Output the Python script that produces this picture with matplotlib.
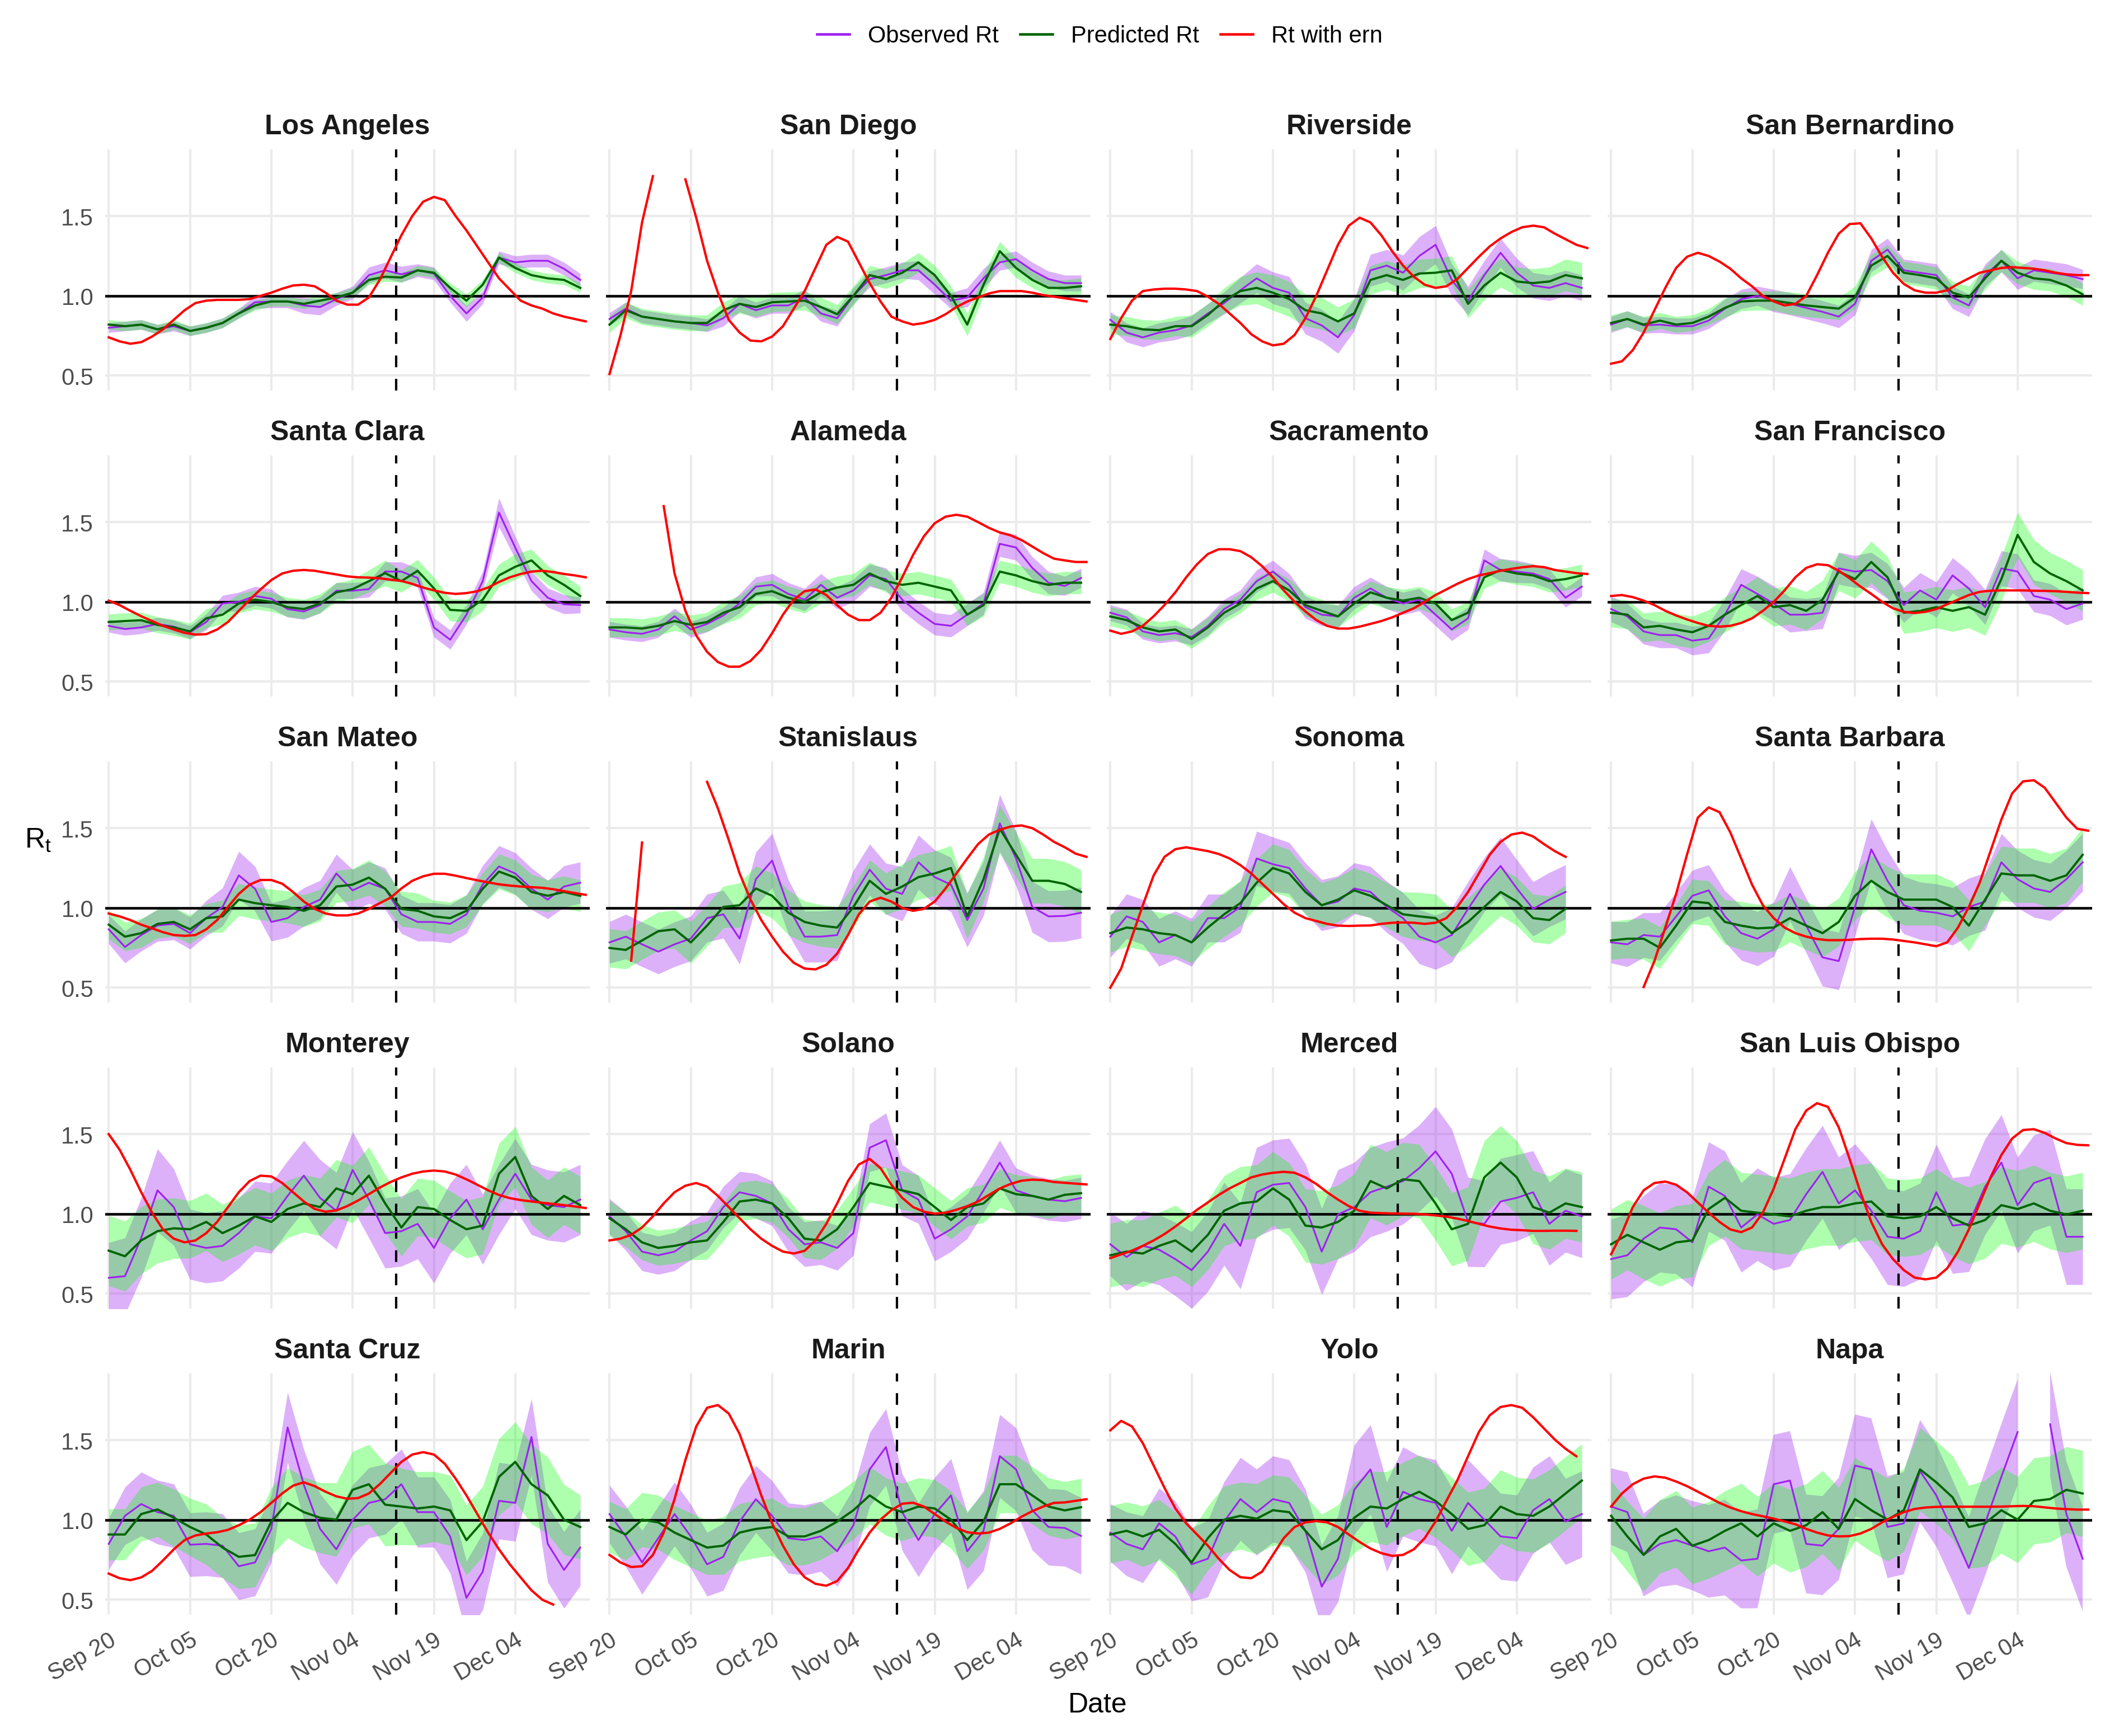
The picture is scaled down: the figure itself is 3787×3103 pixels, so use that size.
import numpy as np
import matplotlib
matplotlib.use("Agg")
import matplotlib.pyplot as plt
from matplotlib.lines import Line2D

plt.rcParams['font.family'] = ['Liberation Sans', 'DejaVu Sans']

nan = np.nan

########### Panels and axis values #############################
counties = ["Los Angeles", "San Diego", "Riverside", "San Bernardino",
            "Santa Clara", "Alameda", "Sacramento", "San Francisco",
            "San Mateo", "Stanislaus", "Sonoma", "Santa Barbara",
            "Monterey", "Solano", "Merced", "San Luis Obispo",
            "Santa Cruz", "Marin", "Yolo", "Napa"]

days_rt = np.arange(0, 88, 3)     # days since Sep 20 (observed / predicted)
days_ern = np.arange(0, 89, 2)    # days since Sep 20 (Rt with ern)
date_ticks = [0, 15, 30, 45, 60, 75]
date_labels = ["Sep 20", "Oct 05", "Oct 20", "Nov 04", "Nov 19", "Dec 04"]
y_ticks = [0.5, 1.0, 1.5]
y_labels = ["0.5", "1.0", "1.5"]
cutoff_day = 53                   # Nov 12

########### Observed Rt #############################
observed = {
    "Los Angeles": [0.80,0.81,0.82,0.79,0.81,0.78,0.80,0.83,0.89,0.96,0.965,0.965,0.94,0.93,0.98,1.02,1.13,1.16,1.135,1.16,1.14,1.0,0.89,0.99,1.24,1.21,1.22,1.22,1.17,1.10],
    "San Diego": [0.855,0.92,0.87,0.855,0.84,0.83,0.815,0.86,0.95,0.91,0.94,0.94,0.99,0.89,0.86,1.0,1.105,1.13,1.16,1.16,1.07,0.97,0.99,1.11,1.21,1.23,1.16,1.105,1.08,1.08],
    "Riverside": [0.85,0.77,0.74,0.77,0.785,0.815,0.89,0.955,1.035,1.11,1.05,1.02,0.86,0.815,0.74,0.88,1.16,1.19,1.145,1.25,1.32,1.10,0.97,1.13,1.27,1.145,1.065,1.05,1.08,1.05],
    "San Bernardino": [0.82,0.855,0.815,0.82,0.81,0.81,0.845,0.92,0.98,1.0,0.97,0.95,0.925,0.90,0.87,0.95,1.22,1.29,1.16,1.145,1.13,0.99,0.94,1.13,1.22,1.11,1.16,1.145,1.13,1.105],
    "Santa Clara": [0.85,0.83,0.84,0.862,0.845,0.81,0.874,0.99,1.0,1.037,1.02,0.955,0.94,0.98,1.07,1.07,1.08,1.19,1.19,1.15,0.84,0.763,0.92,1.13,1.56,1.34,1.13,1.026,0.985,0.98],
    "Alameda": [0.827,0.81,0.80,0.827,0.91,0.827,0.862,0.915,0.99,1.096,1.107,1.05,1.014,1.107,1.026,1.072,1.166,1.143,1.014,0.932,0.862,0.85,0.92,0.99,1.364,1.341,1.213,1.12,1.10,1.15],
    "Sacramento": [0.932,0.903,0.815,0.792,0.804,0.78,0.85,0.955,1.014,1.13,1.19,1.107,0.967,0.92,0.909,1.026,1.084,1.026,0.99,1.014,0.92,0.827,0.897,1.26,1.20,1.19,1.178,1.143,1.026,1.096],
    "San Francisco": [0.955,0.909,0.815,0.792,0.792,0.757,0.77,0.92,1.107,1.05,0.99,0.92,0.92,0.932,1.21,1.19,1.20,1.13,0.98,1.072,1.014,1.166,1.084,0.967,1.21,1.19,1.037,1.014,0.955,0.99],
    "San Mateo": [0.866,0.755,0.83,0.89,0.90,0.842,0.936,1.006,1.204,1.12,0.912,0.936,1.006,1.052,1.216,1.11,1.158,1.12,0.96,0.912,0.912,0.90,0.96,1.146,1.26,1.216,1.12,1.052,1.134,1.158],
    "Stanislaus": [0.784,0.82,0.772,0.726,0.772,0.808,0.936,0.96,0.808,1.18,1.297,1.006,0.82,0.82,0.83,1.076,1.24,1.12,1.088,1.286,1.193,1.146,0.924,1.122,1.53,1.31,1.006,0.947,0.95,0.97],
    "Sonoma": [0.82,0.947,0.912,0.784,0.83,0.784,0.936,0.936,1.006,1.31,1.274,1.25,1.122,1.017,1.04,1.122,1.10,1.006,0.936,0.82,0.784,0.83,0.994,1.146,1.263,1.122,0.994,1.052,1.10,nan],
    "Santa Barbara": [0.784,0.772,0.83,0.82,0.947,1.076,1.11,0.947,0.842,0.807,0.866,1.088,0.889,0.69,0.667,1.006,1.367,1.17,1.017,0.982,0.97,0.947,1.006,1.04,1.286,1.18,1.122,1.10,1.18,1.286],
    "Monterey": [0.60,0.61,0.85,1.148,1.043,0.81,0.787,0.80,0.88,0.985,0.973,1.113,1.24,1.10,1.02,1.276,1.09,0.88,0.892,0.938,0.787,0.973,1.09,0.904,1.09,1.252,1.09,1.055,1.043,1.09],
    "Solano": [0.985,0.892,0.764,0.741,0.764,0.834,0.892,1.043,1.136,1.113,1.066,0.904,0.81,0.822,0.787,0.88,1.415,1.462,1.148,1.09,0.845,0.904,0.985,1.148,1.322,1.148,1.113,1.09,1.08,1.10],
    "Merced": [0.81,0.73,0.80,0.776,0.717,0.648,0.764,0.938,0.80,1.136,1.183,1.194,1.043,0.764,0.997,1.043,1.136,1.171,1.206,1.287,1.392,1.252,0.95,0.938,1.078,1.101,1.136,0.938,1.02,0.985],
    "San Luis Obispo": [0.717,0.741,0.845,0.915,0.904,0.822,1.171,1.113,0.915,0.997,0.938,0.962,1.124,1.264,1.066,1.148,1.02,0.857,0.845,0.892,1.136,0.927,0.938,1.171,1.322,1.055,1.194,1.229,0.857,0.857],
    "Santa Cruz": [0.85,1.026,1.10,1.049,1.026,0.845,0.85,0.839,0.71,0.734,0.944,1.58,1.22,0.944,0.816,1.0,1.107,1.13,1.224,1.049,1.049,0.897,0.512,0.676,1.12,1.107,1.52,0.85,0.687,0.827],
    "Marin": [1.037,0.897,0.734,0.886,1.037,0.897,0.722,0.769,0.99,1.13,1.026,0.886,0.874,0.897,0.804,0.967,1.317,1.457,1.049,0.874,1.037,1.154,0.804,0.932,1.40,1.317,1.061,0.956,0.95,0.90],
    "Yolo": [0.92,0.85,0.816,0.979,0.897,0.722,0.757,0.99,1.131,1.049,1.131,1.107,0.932,0.582,0.757,1.189,1.317,0.956,1.177,1.131,1.107,0.932,1.107,1.002,0.897,0.886,1.061,1.131,0.99,1.037],
    "Napa": [1.084,1.049,0.781,0.85,0.874,0.839,0.804,0.827,0.746,0.757,1.224,1.247,0.85,0.839,0.944,1.341,1.317,0.956,0.979,1.306,1.154,0.932,0.699,0.979,1.271,1.551,nan,1.6,1.037,0.757],
}

# half width of the observed band, in hundredths
observed_band = {
    "Los Angeles": [3,3,3,3,3,3,3,3,3,4,4,4,5,5,4,4,5,5,5,4,4,4,5,4,4,4,4,4,4,4],
    "San Diego": [4,4,4,4,4,4,4,5,5,5,5,5,5,5,5,5,5,5,5,6,6,5,6,6,5,5,5,5,5,5],
    "Riverside": [5,6,6,6,6,6,6,7,8,9,10,10,10,10,10,10,10,10,11,12,12,10,9,9,9,9,8,8,8,8],
    "San Bernardino": [5,5,5,5,5,5,5,6,6,6,7,7,7,7,7,7,7,7,7,7,7,7,7,7,7,7,7,7,7,6],
    "Santa Clara": [4,4,4,4,4,4,5,5,6,6,6,5,5,5,5,5,5,6,6,6,6,6,6,6,9,7,6,6,6,5],
    "Alameda": [5,5,5,5,5,5,5,5,6,6,7,7,7,7,7,7,7,7,7,7,7,7,7,7,8,8,7,7,6,6],
    "Sacramento": [5,5,5,5,5,5,6,6,6,7,7,7,7,7,7,7,7,7,7,7,7,7,7,7,7,7,6,6,6,6],
    "San Francisco": [8,8,8,8,8,9,9,10,10,11,11,11,10,10,10,10,11,11,11,11,11,11,11,11,11,11,10,10,10,10],
    "San Mateo": [9,10,10,10,10,10,11,12,15,14,12,12,12,12,12,13,13,13,12,12,12,12,12,12,13,13,13,12,13,13],
    "Stanislaus": [13,14,14,14,14,14,15,15,16,17,17,17,16,16,16,16,16,16,17,17,17,17,17,17,18,17,16,16,16,16],
    "Sonoma": [13,14,14,15,15,15,15,15,16,17,17,16,16,16,16,16,16,16,16,17,17,17,17,17,18,18,17,17,17,17],
    "Santa Barbara": [13,14,14,15,15,16,16,16,17,17,17,17,17,18,18,18,19,19,18,18,18,18,18,18,18,18,18,18,18,18],
    "Monterey": [22,24,25,26,24,22,22,22,22,22,22,22,22,24,24,24,24,22,22,22,22,22,22,22,22,22,22,22,22,22],
    "Solano": [11,12,12,12,12,12,12,13,13,14,14,14,14,14,14,14,15,17,16,15,14,14,14,14,14,14,13,13,13,13],
    "Merced": [20,21,22,22,23,24,25,26,27,28,28,28,27,27,28,28,28,28,27,27,28,28,28,27,27,27,26,26,26,26],
    "San Luis Obispo": [25,26,27,28,28,28,28,28,28,29,29,29,29,29,29,29,30,30,30,30,30,30,30,30,30,30,30,30,30,30],
    "Santa Cruz": [16,18,20,20,20,20,20,20,21,21,21,22,22,22,22,22,22,22,22,22,22,23,23,24,24,24,24,24,24,24],
    "Marin": [18,19,20,20,20,20,20,21,21,21,22,22,22,22,22,23,23,24,24,23,23,23,24,25,26,26,25,24,24,24],
    "Yolo": [18,20,21,22,22,23,24,25,26,27,27,27,26,26,27,28,28,28,28,27,27,27,27,27,27,27,27,27,27,27],
    "Napa": [24,25,26,27,28,28,29,30,30,31,31,31,31,31,32,32,32,32,32,32,32,32,32,33,33,33,33,33,33,33],
}

########### Predicted Rt #############################
predicted = {
    "Los Angeles": [0.82,0.81,0.82,0.79,0.82,0.78,0.80,0.83,0.89,0.94,0.965,0.965,0.95,0.97,0.99,1.02,1.10,1.12,1.115,1.16,1.145,1.05,0.97,1.07,1.24,1.175,1.13,1.11,1.10,1.05],
    "San Diego": [0.82,0.91,0.87,0.855,0.84,0.83,0.83,0.91,0.95,0.93,0.96,0.965,0.97,0.93,0.885,1.0,1.13,1.105,1.145,1.21,1.13,1.0,0.82,1.07,1.28,1.175,1.10,1.05,1.05,1.06],
    "Riverside": [0.82,0.81,0.79,0.785,0.81,0.81,0.88,0.97,1.03,1.05,1.02,0.98,0.91,0.89,0.84,0.89,1.10,1.13,1.10,1.14,1.145,1.16,0.95,1.065,1.145,1.09,1.08,1.09,1.13,1.11],
    "San Bernardino": [0.83,0.855,0.82,0.845,0.82,0.83,0.87,0.925,0.965,0.97,0.97,0.955,0.94,0.93,0.92,0.99,1.19,1.25,1.145,1.13,1.11,1.02,0.99,1.11,1.22,1.145,1.11,1.10,1.065,1.01],
    "Santa Clara": [0.874,0.88,0.885,0.856,0.84,0.815,0.897,0.92,0.99,1.014,1.0,0.967,0.955,0.99,1.06,1.08,1.13,1.18,1.13,1.195,1.085,0.95,0.944,1.014,1.166,1.22,1.26,1.166,1.107,1.037],
    "Alameda": [0.84,0.84,0.833,0.85,0.88,0.856,0.874,0.932,0.967,1.05,1.067,1.026,1.0,1.06,1.09,1.107,1.178,1.13,1.107,1.12,1.096,1.072,0.92,0.98,1.19,1.166,1.13,1.107,1.12,1.12],
    "Sacramento": [0.909,0.886,0.84,0.815,0.827,0.768,0.84,0.932,0.99,1.084,1.13,1.072,0.98,0.944,0.909,0.99,1.06,1.026,1.008,1.026,0.99,0.886,0.932,1.154,1.20,1.178,1.166,1.13,1.143,1.166],
    "San Francisco": [0.932,0.92,0.84,0.85,0.827,0.81,0.85,0.92,0.98,1.037,0.967,0.98,0.944,1.014,1.19,1.143,1.25,1.154,0.932,0.944,0.967,0.944,0.967,0.92,1.143,1.42,1.25,1.178,1.13,1.072],
    "San Mateo": [0.895,0.82,0.842,0.90,0.912,0.866,0.936,0.947,1.052,1.03,1.017,1.006,0.982,1.017,1.134,1.146,1.19,1.12,0.994,0.982,0.947,0.936,0.982,1.12,1.228,1.19,1.10,1.076,1.10,1.076],
    "Stanislaus": [0.749,0.737,0.796,0.854,0.866,0.784,0.889,1.006,1.017,1.122,1.076,0.97,0.912,0.889,0.877,1.006,1.17,1.088,1.134,1.193,1.216,1.25,0.947,1.18,1.496,1.333,1.17,1.17,1.15,1.10],
    "Sonoma": [0.842,0.877,0.866,0.842,0.83,0.784,0.877,0.96,1.03,1.158,1.25,1.216,1.10,1.017,1.052,1.11,1.076,1.017,0.96,0.947,0.936,0.842,0.912,1.006,1.10,1.04,0.936,0.924,0.994,nan],
    "Santa Barbara": [0.796,0.807,0.807,0.75,0.889,1.04,1.03,0.912,0.889,0.872,0.877,0.936,0.889,0.842,0.912,1.076,1.17,1.10,1.052,1.052,1.052,1.006,0.889,1.052,1.216,1.204,1.204,1.17,1.204,1.333],
    "Monterey": [0.77,0.735,0.834,0.892,0.91,0.904,0.95,0.88,0.927,0.985,0.95,1.031,1.066,1.043,1.16,1.124,1.24,1.066,0.915,1.043,1.031,0.962,0.904,0.927,1.252,1.357,1.113,1.031,1.113,1.055],
    "Solano": [0.973,0.904,0.822,0.787,0.80,0.822,0.834,0.95,1.078,1.09,1.066,0.973,0.845,0.834,0.904,1.043,1.194,1.171,1.148,1.124,1.043,0.962,1.043,1.066,1.16,1.124,1.113,1.09,1.12,1.13],
    "Merced": [0.741,0.764,0.752,0.80,0.834,0.764,0.869,1.02,1.066,1.078,1.16,1.09,0.927,0.915,0.95,1.02,1.206,1.16,1.217,1.206,1.066,0.904,0.938,1.229,1.322,1.229,1.043,1.008,1.066,1.043],
    "San Luis Obispo": [0.81,0.869,0.822,0.776,0.822,0.834,1.031,1.101,1.02,1.008,0.997,0.985,1.02,1.043,1.043,1.066,1.078,0.985,0.973,0.985,1.043,0.973,0.927,0.962,1.055,1.031,1.066,1.02,0.997,1.02],
    "Santa Cruz": [0.909,0.909,1.037,1.066,1.014,0.956,0.909,0.827,0.769,0.78,0.99,1.107,1.049,1.014,1.002,1.189,1.224,1.096,1.084,1.072,1.084,1.06,0.874,0.99,1.27,1.364,1.224,1.154,1.002,0.956],
    "Marin": [0.956,0.909,1.002,0.985,0.921,0.874,0.827,0.839,0.921,0.944,0.956,0.897,0.897,0.932,0.99,1.061,1.154,1.084,1.049,1.084,1.072,1.002,0.874,0.99,1.224,1.224,1.154,1.084,1.06,1.08],
    "Yolo": [0.909,0.932,0.897,0.938,0.85,0.734,0.886,1.002,1.026,1.008,1.061,1.049,0.932,0.816,0.874,1.014,1.084,1.072,1.131,1.177,1.119,1.037,0.944,0.967,1.084,1.037,1.026,1.084,1.166,1.247],
    "Napa": [1.026,0.897,0.781,0.897,0.944,0.839,0.874,0.932,0.979,0.897,0.979,0.932,0.967,1.049,0.944,1.131,1.061,1.002,1.061,1.317,1.236,1.142,0.956,0.979,1.061,1.002,1.119,1.131,1.189,1.166],
}

# half width of the predicted band, in hundredths
predicted_band = {
    "Los Angeles": [3,3,3,3,3,3,3,3,3,3,3,3,3,3,3,3,3,3,3,3,3,3,4,3,3,3,3,3,3,3],
    "San Diego": [5,5,5,5,5,5,5,5,6,6,6,6,6,6,6,6,6,6,6,6,6,6,7,7,6,6,5,5,5,5],
    "Riverside": [6,6,6,6,6,7,7,8,9,10,11,11,10,10,9,9,9,9,9,9,9,9,9,9,9,9,9,9,10,10],
    "San Bernardino": [5,5,5,5,5,5,5,6,6,6,6,7,7,7,7,7,7,7,7,7,7,7,7,7,7,7,7,7,7,7],
    "Santa Clara": [5,5,5,5,5,5,6,6,6,6,6,6,6,6,6,6,7,8,7,7,7,7,7,7,7,8,7,6,6,6],
    "Alameda": [6,6,6,6,6,6,6,7,7,7,7,7,7,7,7,7,7,7,7,7,7,7,7,7,7,7,7,7,7,7],
    "Sacramento": [6,6,6,6,6,6,6,6,6,7,7,7,7,7,7,7,7,7,7,7,7,7,7,7,7,7,7,7,7,7],
    "San Francisco": [9,9,9,9,10,10,10,11,11,12,12,12,12,12,12,12,13,13,13,13,13,13,13,13,14,14,14,13,13,13],
    "San Mateo": [9,9,9,9,9,9,9,10,10,10,10,10,10,10,10,10,11,11,11,11,10,10,10,10,11,11,11,10,10,10],
    "Stanislaus": [12,12,12,12,12,13,13,13,14,14,14,14,13,13,13,13,13,13,14,14,14,14,14,14,15,14,14,14,14,14],
    "Sonoma": [12,12,13,13,13,13,13,14,14,15,15,15,14,14,14,14,14,14,14,15,15,15,15,15,15,15,15,15,15,15],
    "Santa Barbara": [12,12,13,13,13,14,14,14,15,15,15,15,15,15,15,15,16,16,16,16,16,16,16,16,17,17,17,17,17,17],
    "Monterey": [22,22,21,20,19,18,18,18,18,18,18,18,18,18,18,18,18,18,18,18,18,18,18,18,19,19,18,18,18,18],
    "Solano": [11,11,11,11,11,11,12,12,12,12,12,12,12,12,12,12,12,12,12,12,12,12,12,12,12,12,12,12,12,12],
    "Merced": [20,20,21,21,22,22,22,22,23,23,23,23,23,23,23,23,23,23,23,23,23,23,23,23,23,23,23,23,22,22],
    "San Luis Obispo": [22,22,23,23,23,23,23,24,24,24,24,24,24,24,24,24,24,24,24,24,24,24,24,24,24,24,24,24,24,24],
    "Santa Cruz": [16,16,17,17,18,18,19,19,20,20,21,22,22,22,23,24,25,26,24,23,22,22,22,22,24,25,25,24,22,20],
    "Marin": [16,16,17,17,17,17,17,18,18,18,18,18,18,18,18,18,18,18,18,18,18,18,18,18,18,18,18,18,18,18],
    "Yolo": [18,18,19,19,20,20,20,21,21,22,22,22,22,22,22,22,22,23,23,23,23,23,23,23,23,23,23,23,23,23],
    "Napa": [22,22,23,23,24,24,24,25,25,25,25,26,26,26,26,26,26,26,26,26,26,26,26,27,27,27,27,27,27,27],
}

########### Rt with ern #############################
ern = {
    "Los Angeles": [0.74,0.715,0.70,0.71,0.745,0.79,0.85,0.91,0.955,0.97,0.975,0.975,0.975,0.98,1.0,1.02,1.045,1.065,1.07,1.06,1.02,0.97,0.945,0.945,0.99,1.10,1.24,1.38,1.50,1.59,1.62,1.60,1.50,1.41,1.31,1.21,1.11,1.04,0.97,0.94,0.92,0.89,0.87,0.855,0.84],
    "San Diego": [0.51,0.75,1.03,1.46,1.75,nan,nan,1.73,1.49,1.22,1.02,0.85,0.77,0.72,0.715,0.745,0.81,0.92,1.03,1.175,1.32,1.37,1.34,1.21,1.08,0.965,0.87,0.84,0.82,0.83,0.85,0.885,0.93,0.965,0.99,1.015,1.03,1.03,1.03,1.02,1.005,0.995,0.985,0.975,0.965],
    "Riverside": [0.73,0.86,0.97,1.03,1.04,1.045,1.045,1.04,1.03,0.995,0.95,0.89,0.83,0.76,0.715,0.69,0.70,0.755,0.86,1.0,1.16,1.32,1.44,1.49,1.46,1.38,1.28,1.19,1.12,1.07,1.05,1.06,1.105,1.175,1.245,1.31,1.36,1.40,1.43,1.44,1.43,1.39,1.355,1.32,1.30],
    "San Bernardino": [0.575,0.59,0.66,0.77,0.91,1.05,1.175,1.245,1.27,1.25,1.215,1.17,1.11,1.06,1.0,0.965,0.94,0.95,1.0,1.13,1.27,1.39,1.45,1.455,1.36,1.245,1.145,1.075,1.035,1.02,1.02,1.035,1.075,1.11,1.145,1.16,1.175,1.18,1.175,1.17,1.16,1.145,1.135,1.13,1.13],
    "Santa Clara": [1.008,0.98,0.944,0.91,0.88,0.85,0.827,0.806,0.795,0.798,0.827,0.874,0.944,1.014,1.078,1.137,1.178,1.195,1.20,1.195,1.183,1.172,1.16,1.154,1.152,1.148,1.139,1.131,1.113,1.09,1.072,1.057,1.05,1.055,1.067,1.09,1.125,1.154,1.175,1.19,1.195,1.187,1.175,1.166,1.154],
    "Alameda": [nan,nan,nan,nan,nan,1.6,1.178,0.944,0.79,0.687,0.623,0.594,0.594,0.63,0.70,0.804,0.92,1.014,1.067,1.078,1.043,0.979,0.92,0.886,0.886,0.932,1.026,1.154,1.294,1.411,1.493,1.534,1.546,1.534,1.50,1.464,1.435,1.417,1.388,1.347,1.306,1.271,1.26,1.25,1.25],
    "Sacramento": [0.82,0.80,0.815,0.85,0.91,0.98,1.06,1.154,1.236,1.30,1.33,1.33,1.318,1.28,1.224,1.154,1.072,1.0,0.94,0.886,0.85,0.833,0.833,0.845,0.862,0.88,0.903,0.932,0.96,1.0,1.043,1.078,1.113,1.143,1.166,1.18,1.195,1.207,1.217,1.224,1.218,1.20,1.19,1.18,1.175],
    "San Francisco": [1.037,1.043,1.03,1.008,0.98,0.944,0.915,0.89,0.868,0.85,0.845,0.85,0.868,0.897,0.944,1.0,1.072,1.154,1.213,1.236,1.23,1.195,1.148,1.096,1.05,1.0,0.96,0.938,0.93,0.938,0.955,0.985,1.014,1.043,1.063,1.07,1.072,1.072,1.072,1.07,1.069,1.067,1.063,1.058,1.055],
    "San Mateo": [0.965,0.947,0.924,0.895,0.872,0.848,0.83,0.825,0.83,0.866,0.924,1.006,1.088,1.146,1.175,1.175,1.152,1.10,1.04,0.994,0.965,0.953,0.953,0.965,0.994,1.03,1.064,1.122,1.17,1.198,1.214,1.214,1.202,1.187,1.173,1.16,1.148,1.14,1.134,1.13,1.126,1.117,1.105,1.093,1.082],
    "Stanislaus": [nan,nan,0.67,1.41,nan,nan,nan,nan,nan,1.79,1.624,1.426,1.216,1.053,0.924,0.82,0.726,0.656,0.62,0.615,0.644,0.714,0.83,0.96,1.04,1.064,1.04,1.0,0.982,0.994,1.04,1.122,1.216,1.31,1.40,1.46,1.49,1.51,1.517,1.50,1.46,1.414,1.38,1.34,1.32],
    "Sonoma": [0.5,0.62,0.82,1.017,1.204,1.32,1.368,1.38,1.368,1.356,1.338,1.31,1.268,1.216,1.152,1.088,1.023,0.97,0.936,0.918,0.90,0.889,0.887,0.889,0.89,0.90,0.907,0.909,0.907,0.90,0.907,0.936,1.006,1.10,1.216,1.333,1.414,1.46,1.472,1.448,1.40,1.356,1.32,nan,nan],
    "Santa Barbara": [nan,nan,nan,0.504,0.668,0.877,1.088,1.333,1.566,1.63,1.60,1.473,1.31,1.146,1.017,0.936,0.877,0.842,0.82,0.805,0.798,0.798,0.80,0.805,0.807,0.807,0.802,0.793,0.784,0.772,0.76,0.784,0.877,1.006,1.158,1.356,1.554,1.718,1.793,1.80,1.753,1.66,1.566,1.496,1.484],
    "Monterey": [1.50,1.403,1.276,1.136,1.008,0.903,0.845,0.822,0.834,0.88,0.95,1.043,1.136,1.206,1.24,1.235,1.194,1.136,1.078,1.031,1.014,1.022,1.049,1.084,1.124,1.165,1.20,1.229,1.252,1.266,1.272,1.266,1.247,1.217,1.183,1.148,1.119,1.099,1.087,1.078,1.07,1.063,1.055,1.047,1.037],
    "Solano": [0.834,0.845,0.869,0.915,0.985,1.066,1.136,1.177,1.194,1.171,1.113,1.043,0.973,0.904,0.845,0.80,0.764,0.752,0.769,0.834,0.938,1.066,1.206,1.31,1.345,1.287,1.183,1.101,1.043,1.014,1.002,1.008,1.026,1.049,1.078,1.119,1.16,1.188,1.208,1.215,1.212,1.20,1.195,1.19,1.185],
    "Merced": [0.723,0.747,0.77,0.80,0.834,0.874,0.921,0.973,1.026,1.072,1.119,1.16,1.194,1.229,1.247,1.258,1.264,1.258,1.229,1.188,1.136,1.09,1.049,1.02,1.008,1.005,1.003,1.002,1.001,0.997,0.991,0.983,0.971,0.956,0.938,0.921,0.909,0.901,0.898,0.894,0.894,0.895,0.895,0.894,nan],
    "San Luis Obispo": [0.747,0.88,1.043,1.148,1.194,1.203,1.183,1.136,1.072,1.008,0.95,0.903,0.886,0.915,1.008,1.159,1.345,1.531,1.648,1.694,1.671,1.543,1.345,1.136,0.95,0.81,0.717,0.648,0.601,0.59,0.601,0.659,0.764,0.903,1.066,1.229,1.369,1.473,1.526,1.531,1.508,1.473,1.444,1.433,1.43],
    "Santa Cruz": [0.664,0.635,0.623,0.64,0.681,0.746,0.816,0.874,0.903,0.915,0.923,0.938,0.967,1.002,1.049,1.107,1.166,1.215,1.236,1.212,1.177,1.148,1.133,1.137,1.166,1.224,1.294,1.364,1.41,1.425,1.41,1.352,1.259,1.154,1.037,0.921,0.816,0.722,0.64,0.559,0.50,0.47,nan,nan,nan],
    "Marin": [0.781,0.734,0.705,0.71,0.781,0.921,1.131,1.376,1.586,1.703,1.72,1.667,1.539,1.352,1.154,0.979,0.839,0.722,0.641,0.60,0.588,0.617,0.699,0.816,0.921,1.002,1.061,1.102,1.108,1.084,1.037,0.99,0.95,0.923,0.915,0.921,0.944,0.979,1.02,1.055,1.084,1.107,1.11,1.12,1.13],
    "Yolo": [1.562,1.621,1.586,1.481,1.341,1.201,1.072,0.979,0.909,0.839,0.757,0.687,0.641,0.635,0.676,0.781,0.886,0.956,0.985,0.993,0.985,0.956,0.909,0.862,0.821,0.792,0.775,0.781,0.816,0.886,0.99,1.119,1.247,1.399,1.551,1.656,1.708,1.72,1.703,1.644,1.574,1.504,1.446,1.399,nan],
    "Napa": [1.084,1.166,1.224,1.259,1.273,1.265,1.241,1.212,1.177,1.142,1.107,1.078,1.055,1.037,1.023,1.008,0.991,0.973,0.944,0.921,0.903,0.897,0.899,0.915,0.944,0.985,1.02,1.049,1.069,1.078,1.082,1.083,1.083,1.083,1.083,1.083,1.084,1.086,1.088,1.086,1.079,1.072,1.068,1.065,1.065],
}

########### Colours #############################
c_obs = '#A020F0'
c_pred = '#006400'
c_pred_band = '#00FF00'
c_ern = '#FF0000'
c_text = '#4D4D4D'
c_grid = '#EBEBEB'

########### Figure and panel layout (pixels of a 3787 x 3104 canvas) ###########
W, H = 3787, 3104
fig = plt.figure(figsize=(W / 300, H / 300), dpi=300)
fig.patch.set_facecolor('white')

panel_w, panel_h = 866, 431
col_step, row_step = 895, 547
left0, top0 = 188, 268

for i, name in enumerate(counties):
    r, c = divmod(i, 4)
    x0 = left0 + c * col_step
    top = top0 + r * row_step
    ax = fig.add_axes([x0 / W, 1 - (top + panel_h) / H, panel_w / W, panel_h / H])

    obs = np.array(observed[name])
    obs_hw = np.array(observed_band[name]) / 100
    pred = np.array(predicted[name])
    pred_hw = np.array(predicted_band[name]) / 100
    rt_ern = np.array(ern[name])

    ax.fill_between(days_rt, obs - obs_hw, obs + obs_hw, color=c_obs, alpha=0.35, lw=0, zorder=1)
    ax.fill_between(days_rt, pred - pred_hw, pred + pred_hw, color=c_pred_band, alpha=0.32, lw=0, zorder=1.1)
    ax.axhline(1.0, color='black', lw=1.1, zorder=2)
    ax.axvline(cutoff_day, color='black', lw=1.0, ls=(0, (5, 5)), zorder=2)
    ax.plot(days_rt, obs, color=c_obs, lw=0.75, zorder=3)
    ax.plot(days_rt, pred, color=c_pred, lw=0.95, zorder=4)
    ax.plot(days_ern, rt_ern, color=c_ern, lw=1.0, zorder=5)

    ax.set_xlim(-0.65, 88.75)
    ax.set_ylim(0.407, 1.918)
    ax.set_xticks(date_ticks)
    ax.set_yticks(y_ticks)
    ax.grid(True, color=c_grid, lw=1.0)
    ax.set_axisbelow(True)
    for s in ax.spines.values():
        s.set_visible(False)
    ax.tick_params(length=0, labelsize=10, labelcolor=c_text, pad=5)

    if c == 0:
        ax.set_yticklabels(y_labels)
    else:
        ax.set_yticklabels([])
    if r == 4:
        ax.set_xticklabels(date_labels, rotation=30, ha='right', rotation_mode='anchor')
        ax.tick_params(axis='x', pad=6)
    else:
        ax.set_xticklabels([])

    ax.text(0.5, 1.065, name, transform=ax.transAxes, ha='center', va='baseline',
            fontsize=12, fontweight='bold', color='#1A1A1A')

########### Axis titles and legend #############################
fig.text(0.518, 0.018, 'Date', ha='center', va='center', fontsize=12, color='black')
fig.text(0.018, 0.516, r'$\mathregular{R_t}$', ha='center', va='center', fontsize=12, color='black')

handles = [Line2D([], [], color=c_obs, lw=1.1),
           Line2D([], [], color=c_pred, lw=1.1),
           Line2D([], [], color=c_ern, lw=1.1)]
fig.legend(handles, ['Observed Rt', 'Predicted Rt', 'Rt with ern'],
           loc='center', bbox_to_anchor=(0.519, 0.979), ncol=3, frameon=False,
           fontsize=10, handlelength=1.4, handletextpad=0.8, columnspacing=0.9)

fig.savefig('out.png', dpi=300, facecolor='white')
